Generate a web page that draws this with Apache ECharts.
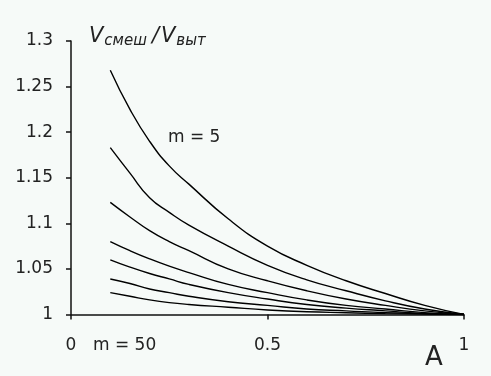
<!DOCTYPE html>
<html>
<head>
<meta charset="utf-8">
<script src="https://cdn.jsdelivr.net/npm/echarts@6/dist/echarts.min.js"></script>
<style>
  html, body { margin: 0; padding: 0; background: #f6faf8; }
  #chart { width: 491px; height: 376px; }
</style>
</head>
<body>
<div id="chart"></div>
<script>
/* ===== data ===== */
const aValues = [0.1, 0.15, 0.2, 0.25, 0.3, 0.4, 0.5, 0.6, 0.7, 0.8, 0.9, 1.0];

// from m = 5 (top) down to m = 50 (bottom)
const curve1 = [1.268, 1.225, 1.19, 1.163, 1.143, 1.105, 1.075, 1.054, 1.037, 1.023, 1.01, 1.0];
const curve2 = [1.183, 1.155, 1.128, 1.112, 1.098, 1.075, 1.054, 1.038, 1.026, 1.015, 1.006, 1.0];
const curve3 = [1.123, 1.107, 1.092, 1.08, 1.07, 1.05, 1.037, 1.026, 1.017, 1.01, 1.004, 1.0];
const curve4 = [1.08, 1.07, 1.061, 1.053, 1.046, 1.033, 1.024, 1.016, 1.01, 1.006, 1.002, 1.0];
const curve5 = [1.06, 1.052, 1.045, 1.039, 1.033, 1.024, 1.017, 1.011, 1.007, 1.004, 1.001, 1.0];
const curve6 = [1.039, 1.034, 1.028, 1.024, 1.02, 1.014, 1.01, 1.006, 1.004, 1.002, 1.001, 1.0];
const curve7 = [1.024, 1.02, 1.016, 1.013, 1.011, 1.008, 1.005, 1.003, 1.002, 1.001, 1.0005, 1.0];

const curves = [curve1, curve2, curve3, curve4, curve5, curve6, curve7];

const FONT = "'DejaVu Sans', sans-serif";
const TEXT = "#222";

const chart = echarts.init(document.getElementById("chart"));

chart.setOption({
  backgroundColor: "#f6faf8",
  animation: false,
  grid: { left: 71, right: 27, top: 41, bottom: 61.5 },
  xAxis: {
    type: "value",
    min: 0,
    max: 1,
    interval: 0.5,
    splitLine: { show: false },
    axisLine: { lineStyle: { color: "#111", width: 1.5 } },
    axisTick: { show: true, length: 5, lineStyle: { color: "#111", width: 1.5 } },
    axisLabel: {
      margin: 23,
      color: TEXT,
      fontSize: 17,
      fontFamily: FONT,
      formatter: (v) => String(v),
    },
  },
  yAxis: {
    type: "value",
    min: 1,
    max: 1.3,
    interval: 0.05,
    splitLine: { show: false },
    axisLine: { show: true, lineStyle: { color: "#111", width: 1.5 } },
    axisTick: { show: true, length: 5, lineStyle: { color: "#111", width: 1.5 } },
    axisLabel: {
      margin: 18,
      color: TEXT,
      fontSize: 17,
      fontFamily: FONT,
    },
  },
  series: curves.map((c) => ({
    type: "line",
    data: aValues.map((a, i) => [a, c[i]]),
    smooth: true,
    showSymbol: false,
    lineStyle: { color: "#000", width: 1.4 },
  })),
  graphic: [
    {
      type: "text",
      left: 89,
      top: 26,
      style: {
        text: "{v|V}{s|смеш}{g|/}{v|V}{s|выт}",
        rich: {
          v: { fontSize: 21, fontStyle: "italic", fontFamily: FONT, fill: TEXT },
          g: { fontSize: 21, fontStyle: "italic", fontFamily: FONT, fill: TEXT, padding: [0, 2, 0, 5] },
          s: { fontSize: 15, fontStyle: "italic", fontFamily: FONT, fill: TEXT, padding: [9, 0, 0, 1] },
        },
      },
    },
    {
      type: "text",
      left: 168,
      top: 129,
      style: { text: "m = 5", fontSize: 17, fontFamily: FONT, fill: TEXT },
    },
    {
      type: "text",
      left: 93,
      top: 337,
      style: { text: "m = 50", fontSize: 17, fontFamily: FONT, fill: TEXT },
    },
    {
      type: "text",
      left: 425,
      top: 345,
      style: { text: "A", fontSize: 26, fontFamily: FONT, fill: TEXT },
    },
  ],
});
</script>
</body>
</html>
